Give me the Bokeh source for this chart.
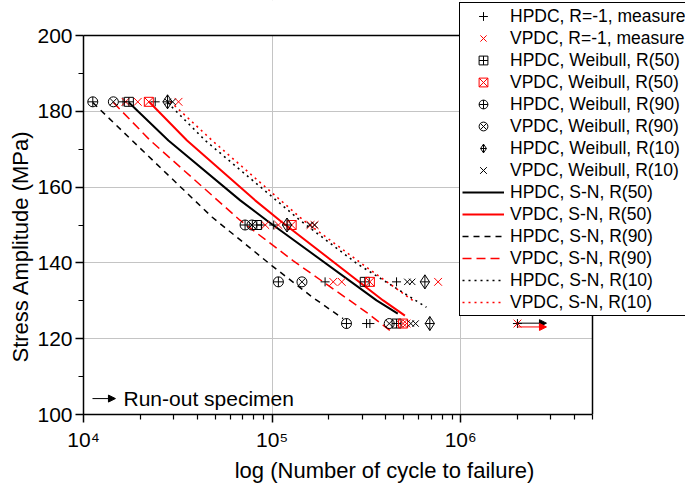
import numpy as np
from bokeh.plotting import figure
from bokeh.models import (Legend, LegendItem, FixedTicker, SingleIntervalTicker,
                          CustomJSTickFormatter, Label, Arrow, NormalHead, Range1d,
                          BoxAnnotation, Title)
from bokeh.embed import file_html
from bokeh.resources import INLINE

# ---------------- data ----------------
# measured specimens
hpdc_meas_N = [16.2e3, 24.0e3, 88.0e3, 102e3, 191e3, 457e3, 317e3, 330e3, 2.0e6]
hpdc_meas_S = [182.5, 182.5, 150, 150, 135, 135, 124, 124, 124]
vpdc_meas_N = [16.7e3, 19.4e3, 31.9e3, 92e3, 108e3, 160e3, 168e3, 211e3, 234e3, 759e3, 475e3, 516e3, 2.0e6]
vpdc_meas_S = [182.5, 182.5, 182.5, 150, 150, 150, 150, 135, 135, 135, 124, 124, 124]

# Weibull estimates at each stress level
weib_S = [182.5, 150, 135, 124]
hpdc_r50_N = [17.4e3, 83.0e3, 310e3, 457e3]
vpdc_r50_N = [22.2e3, 127e3, 330e3, 495e3]
hpdc_r90_N = [11.2e3, 71.9e3, 108e3, 248e3]
vpdc_r90_N = [14.4e3, 78.2e3, 144e3, 418e3]
hpdc_r10_N = [27.9e3, 120e3, 646e3, 686e3]
vpdc_r10_N = [28.8e3, 163e3, 537e3, 560e3]

# S-N curves
sn_hpdc_r50_N = [17.4e3, 28.2e3, 67.8e3, 93.8e3, 358e3, 464e3]
sn_hpdc_r50_S = [182.3, 172.3, 156.5, 151.2, 130.1, 126.6]
sn_vpdc_r50_N = [22.2e3, 35.4e3, 81.3e3, 110e3, 388e3, 506e3]
sn_vpdc_r50_S = [182.6, 172.3, 156.5, 151.2, 130.1, 126.1]
sn_hpdc_r90_N = [11.2e3, 18.1e3, 48.0e3, 99.6e3, 162e3, 238e3]
sn_hpdc_r90_S = [182.3, 172.3, 152.1, 139.3, 131.1, 125.3]
sn_vpdc_r90_N = [14.4e3, 22.6e3, 67.8e3, 129e3, 318e3, 421e3]
sn_vpdc_r90_S = [182.3, 172.3, 151.2, 140.6, 126.9, 122.2]
sn_hpdc_r10_N = [27.9e3, 44.2e3, 141e3, 282e3, 658e3]
sn_hpdc_r10_S = [182.3, 172.3, 151.2, 139.8, 128.3]
sn_vpdc_r10_N = [28.8e3, 48.1e3, 147e3, 318e3, 557e3]
sn_vpdc_r10_S = [182.6, 172.3, 151.2, 138.8, 130.1]

# run-out specimens
runout_N = [2.0e6]
runout_end_N = [2.85e6]
runout_arrow_S_hpdc = [124.1]
runout_arrow_S_vpdc = [123.1]

x_major = [1e4, 1e5, 1e6]
box_x = (1e4, 5e6)      # visible axes box
box_y = (100, 200)

FONT = "Liberation Sans"
RED = "#ff0000"

# ---- layout (pixels) ----
W, H = 685, 490
LEFT, BOTTOM = 83, 76
BOX_W, BOX_H = 509, 379          # size of the drawn axes box
FRAME_W, FRAME_H = W - LEFT, H - BOTTOM   # frame extended to the right/top edge (room for legend)
x_end = 10 ** (np.log10(box_x[0]) + np.log10(box_x[1] / box_x[0]) * FRAME_W / BOX_W)
y_end = box_y[0] + (box_y[1] - box_y[0]) * FRAME_H / BOX_H

p = figure(width=W, height=H, x_axis_type="log",
           x_range=Range1d(box_x[0], x_end), y_range=Range1d(box_y[0], y_end),
           output_backend="svg", toolbar_location=None,
           min_border_left=LEFT, min_border_right=0, min_border_top=0, min_border_bottom=BOTTOM)
p.background_fill_color = "white"
p.border_fill_color = "white"
p.outline_line_color = None

minor_x = [m * d for d in (1e4, 1e5, 1e6) for m in range(2, 10) if m * d <= box_x[1]]
xt = FixedTicker(ticks=x_major, minor_ticks=minor_x)
p.xaxis.ticker = xt
p.xgrid.ticker = xt
yt = SingleIntervalTicker(interval=20, num_minor_ticks=2)
p.yaxis.ticker = yt
p.ygrid.ticker = yt
p.xaxis.bounds = box_x
p.yaxis.bounds = box_y

p.xaxis.formatter = CustomJSTickFormatter(code="""
const sup = {"0":"\u2070","1":"\u00b9","2":"\u00b2","3":"\u00b3","4":"\u2074","5":"\u2075","6":"\u2076","7":"\u2077","8":"\u2078","9":"\u2079"};
const e = Math.round(Math.log10(tick));
return "10" + String(e).split("").map(c => sup[c]).join("");
""")

for ax in (p.xaxis, p.yaxis):
    ax.axis_line_color = "black"
    ax.axis_line_width = 1.5
    ax.major_tick_line_color = "black"
    ax.major_tick_line_width = 1.5
    ax.minor_tick_line_color = "black"
    ax.minor_tick_line_width = 1.2
    ax.major_tick_out = 8
    ax.major_tick_in = 0
    ax.minor_tick_out = 5
    ax.minor_tick_in = 0
    ax.major_label_text_font = FONT
    ax.major_label_text_font_size = "21px"
    ax.major_label_text_color = "black"
    ax.axis_label_text_font = FONT
    ax.axis_label_text_font_size = "22px"
    ax.axis_label_text_font_style = "normal"
    ax.axis_label_text_color = "black"
p.yaxis.major_label_standoff = 3
p.xaxis.major_label_standoff = 5
p.xaxis.axis_label = "log (Number of cycle to failure)"
p.xaxis.axis_label_standoff = 4

# y-axis title (placed like the reference: a little below the box centre)
p.add_layout(Title(text="Stress Amplitude (MPa)", align="left", offset=52, standoff=4,
                   text_font=FONT, text_font_size="22px", text_font_style="normal",
                   text_color="black"), "left")

for g in (p.xgrid, p.ygrid):
    g.grid_line_color = "#c4c4c4"
    g.grid_line_width = 1

# white cover outside the axes box (hides grid lines there)
p.add_layout(BoxAnnotation(left=box_x[1], fill_color="white", fill_alpha=1,
                           line_alpha=0, level="underlay"))
p.add_layout(BoxAnnotation(bottom=box_y[1], fill_color="white", fill_alpha=1,
                           line_alpha=0, level="underlay"))
# top and right sides of the axes box
p.line([box_x[0], box_x[1], box_x[1]], [box_y[1], box_y[1], box_y[0]],
       line_color="black", line_width=1.5)

# ---------------- S-N curves ----------------
r_sn_h50 = p.line(sn_hpdc_r50_N, sn_hpdc_r50_S, line_color="black", line_width=2)
r_sn_v50 = p.line(sn_vpdc_r50_N, sn_vpdc_r50_S, line_color=RED, line_width=2)
r_sn_h90 = p.line(sn_hpdc_r90_N, sn_hpdc_r90_S, line_color="black", line_width=1.5, line_dash="6 5")
r_sn_v90 = p.line(sn_vpdc_r90_N, sn_vpdc_r90_S, line_color=RED, line_width=1.5, line_dash="9 5")
r_sn_h10 = p.line(sn_hpdc_r10_N, sn_hpdc_r10_S, line_color="black", line_width=1.6, line_dash="2 4")
r_sn_v10 = p.line(sn_vpdc_r10_N, sn_vpdc_r10_S, line_color=RED, line_width=1.6, line_dash="2 4")

# ---------------- markers ----------------
def mk(x, y, marker, color, size=10, lw=1.0):
    return p.scatter(x, y, marker=marker, size=size, line_color=color, line_width=lw,
                     fill_color=None)

r_hm = mk(hpdc_meas_N, hpdc_meas_S, "cross", "black", 9)
r_vm = mk(vpdc_meas_N, vpdc_meas_S, "x", RED, 11)
r_h50 = mk(hpdc_r50_N, weib_S, "square_cross", "black", 9)
r_v50 = mk(vpdc_r50_N, weib_S, "square_x", RED, 9)
r_h90 = mk(hpdc_r90_N, weib_S, "circle_cross", "black", 10)
r_v90 = mk(vpdc_r90_N, weib_S, "circle_x", "black", 10)
r_h10 = mk(hpdc_r10_N, weib_S, "diamond_cross", "black", 14)
r_v10a = mk([n / 1.03 for n in vpdc_r10_N], weib_S, "x", "black", 9)
r_v10b = mk([n * 1.03 for n in vpdc_r10_N], weib_S, "x", "black", 9)

# run-out arrows
p.add_layout(Arrow(x_start=runout_N[0], y_start=runout_arrow_S_hpdc[0],
                   x_end=runout_end_N[0], y_end=runout_arrow_S_hpdc[0],
                   line_color="black", line_width=1,
                   end=NormalHead(size=7, fill_color="black", line_color="black")))
p.add_layout(Arrow(x_start=runout_N[0], y_start=runout_arrow_S_vpdc[0],
                   x_end=runout_end_N[0], y_end=runout_arrow_S_vpdc[0],
                   line_color=RED, line_width=1,
                   end=NormalHead(size=7, fill_color=RED, line_color=RED)))

# "Run-out specimen" note
p.add_layout(Arrow(x_start=1.116e4, y_start=104.2, x_end=1.477e4, y_end=104.2,
                   line_color="black", line_width=1,
                   end=NormalHead(size=7, fill_color="black", line_color="black")))
p.add_layout(Label(x=1.63e4, y=104.2, text="Run-out specimen", text_align="left",
                   text_baseline="middle", text_font=FONT, text_font_size="21px",
                   text_color="black"))

items = [
    LegendItem(label="HPDC, R=-1, measure", renderers=[r_hm]),
    LegendItem(label="VPDC, R=-1, measure", renderers=[r_vm]),
    LegendItem(label="HPDC, Weibull, R(50)", renderers=[r_h50]),
    LegendItem(label="VPDC, Weibull, R(50)", renderers=[r_v50]),
    LegendItem(label="HPDC, Weibull, R(90)", renderers=[r_h90]),
    LegendItem(label="VPDC, Weibull, R(90)", renderers=[r_v90]),
    LegendItem(label="HPDC, Weibull, R(10)", renderers=[r_h10]),
    LegendItem(label="VPDC, Weibull, R(10)", renderers=[r_v10a, r_v10b]),
    LegendItem(label="HPDC, S-N, R(50)", renderers=[r_sn_h50]),
    LegendItem(label="VPDC, S-N, R(50)", renderers=[r_sn_v50]),
    LegendItem(label="HPDC, S-N, R(90)", renderers=[r_sn_h90]),
    LegendItem(label="VPDC, S-N, R(90)", renderers=[r_sn_v90]),
    LegendItem(label="HPDC, S-N, R(10)", renderers=[r_sn_h10]),
    LegendItem(label="VPDC, S-N, R(10)", renderers=[r_sn_v10]),
]
legend = Legend(items=items, location=(376, 98), orientation="vertical",
                padding=2, margin=0, spacing=0, glyph_width=42, glyph_height=22,
                label_height=22, label_standoff=6, label_text_font=FONT,
                label_text_font_size="17.5px", label_text_color="black",
                border_line_color="black", border_line_width=1, border_line_alpha=1,
                background_fill_color="white", background_fill_alpha=1)
p.add_layout(legend)

open("out.html", "w").write(file_html(p, INLINE))
